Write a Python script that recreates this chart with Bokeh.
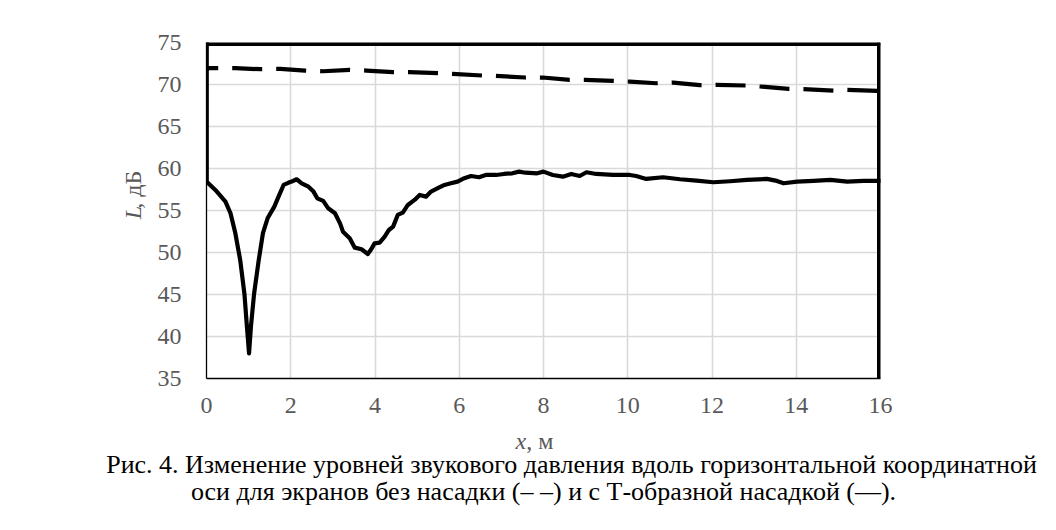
import math
from bokeh.plotting import figure
from bokeh.layouts import row, column
from bokeh.models import Range1d, FixedTicker, Span, BoxAnnotation
from bokeh.core.properties import value
from bokeh.embed import file_html
from bokeh.resources import INLINE

# --- data ---
x_solid = [0.0, 0.0, 0.21, 0.45, 0.57, 0.685, 0.80, 0.90, 0.96, 1.01, 1.055, 1.13, 1.24, 1.34,
           1.45, 1.61, 1.71, 1.83, 1.94, 2.02, 2.14, 2.26, 2.42, 2.54, 2.63, 2.77, 2.89,
           3.05, 3.17, 3.24, 3.40, 3.52, 3.68, 3.83, 3.91, 3.99, 4.11, 4.23, 4.33, 4.43,
           4.54, 4.66, 4.78, 4.94, 5.06, 5.21, 5.33, 5.49, 5.65, 5.80, 5.96, 6.12, 6.28,
           6.47, 6.63, 6.87, 7.06, 7.26, 7.42, 7.57, 7.85, 8.0, 8.22, 8.46, 8.66, 8.86,
           9.02, 9.25, 9.65, 10.05, 10.2, 10.44, 10.84, 11.24, 11.63, 12.03, 12.43, 12.83,
           13.30, 13.54, 13.70, 14.02, 14.41, 14.81, 15.21, 15.60, 16.0]
L_solid = [75.0, 58.44, 57.45, 56.06, 54.67, 52.28, 49.1, 45.1, 41.16, 37.99, 41.2, 45.1, 49.1, 52.3,
           54.07, 55.46, 56.65, 58.04, 58.3, 58.44, 58.72, 58.24, 57.84, 57.25, 56.45, 56.14, 55.26,
           54.67, 53.47, 52.48, 51.69, 50.58, 50.38, 49.82, 50.38, 51.09, 51.17, 51.89, 52.68, 53.08,
           54.47, 54.75, 55.66, 56.26, 56.85, 56.65, 57.25, 57.65, 58.04, 58.24, 58.44, 58.84, 59.11,
           58.96, 59.23, 59.23, 59.35, 59.43, 59.63, 59.5, 59.43, 59.63, 59.23, 59.03, 59.35, 59.11,
           59.55, 59.35, 59.23, 59.23, 59.11, 58.76, 58.96, 58.72, 58.56, 58.36, 58.48, 58.64,
           58.76, 58.52, 58.24, 58.44, 58.52, 58.64, 58.44, 58.52, 58.52]

x_dash = [0.0, 0.055, 0.685, 1.28, 1.75, 2.34, 2.77, 3.40, 3.80, 4.43, 4.82, 5.49, 5.84, 6.55,
          6.87, 7.57, 7.98, 8.62, 8.98, 9.65, 10.05, 10.68, 11.08, 11.71, 12.11, 12.83, 13.14,
          13.82, 14.17, 14.89, 15.21, 16.0]
L_dash = [71.8, 71.94, 71.94, 71.82, 71.86, 71.66, 71.58, 71.74, 71.66, 71.47, 71.47, 71.35, 71.27,
          71.07, 71.03, 70.83, 70.83, 70.55, 70.55, 70.43, 70.35, 70.15, 70.23, 69.92, 69.96, 69.88,
          69.76, 69.48, 69.44, 69.28, 69.36, 69.24]

x_ticks = [0, 2, 4, 6, 8, 10, 12, 14, 16]
y_ticks = [35, 40, 45, 50, 55, 60, 65, 70, 75]

y_label_var, y_label_unit = "L", ", дБ"
x_label_var, x_label_unit = "x", ", м"
caption1 = "Рис. 4. Изменение уровней звукового давления вдоль горизонтальной координатной"
caption2 = "оси для экранов без насадки (– –) и с Т-образной насадкой (—)."

SERIF = "Liberation Serif"
GRAY = "#595959"

TOTAL_W = 1040
LEFT_W = 152
TOP_H = 426
BOT_H = 96
FRAME_LEFT, FRAME_TOP, FRAME_W, FRAME_H = 206, 42, 674, 336


def blank(width, height):
    f = figure(width=width, height=height, output_backend="svg", toolbar_location=None,
               x_range=Range1d(0, width), y_range=Range1d(height, 0),
               min_border=0, x_axis_location=None, y_axis_location=None)
    f.grid.visible = False
    f.outline_line_color = None
    f.background_fill_color = "white"
    f.border_fill_color = "white"
    return f


# ---------- main chart ----------
MAIN_W = TOTAL_W - LEFT_W
p = figure(width=MAIN_W, height=TOP_H, output_backend="svg", toolbar_location=None,
           x_range=Range1d(0, 16), y_range=Range1d(35, 75),
           min_border_left=FRAME_LEFT - LEFT_W,
           min_border_right=MAIN_W - (FRAME_LEFT - LEFT_W) - FRAME_W,
           min_border_top=FRAME_TOP, min_border_bottom=TOP_H - FRAME_TOP - FRAME_H)
p.background_fill_color = "white"
p.border_fill_color = "white"
p.outline_line_color = None

for ax in (p.xaxis[0], p.yaxis[0]):
    ax.major_tick_in = 0
    ax.major_tick_out = 0
    ax.minor_tick_in = 0
    ax.minor_tick_out = 0
    ax.axis_line_color = "black"
    ax.axis_line_width = 1.3
    ax.major_label_text_font = SERIF
    ax.major_label_text_font_size = "24px"
    ax.major_label_text_color = GRAY

p.xaxis[0].ticker = FixedTicker(ticks=x_ticks)
p.yaxis[0].ticker = FixedTicker(ticks=y_ticks)
p.xaxis[0].major_label_standoff = 19
p.yaxis[0].major_label_standoff = 25

p.xgrid[0].ticker = FixedTicker(ticks=x_ticks)
p.ygrid[0].ticker = FixedTicker(ticks=y_ticks)
for g in (p.xgrid[0], p.ygrid[0]):
    g.grid_line_color = "#d9d9d9"
    g.grid_line_width = 1.6

p.line(x_dash, L_dash, line_color="black", line_width=4.2, line_dash="30 14",
       line_dash_offset=18, line_join="round")
p.line(x_solid, L_solid, line_color="black", line_width=4.2, line_join="round", line_cap="round")
# the solid series' initial vertical rise sits on the frame edge: thicken its visible part
p.add_layout(BoxAnnotation(left=x_solid[0], right=x_solid[0] + 0.05,
                           bottom=L_solid[1], top=L_solid[0],
                           fill_color="black", fill_alpha=1.0, line_color=None))

# thick top and right borders (half clipped at the frame edge)
p.add_layout(Span(location=75, dimension="width", line_color="black", line_width=7))
p.add_layout(Span(location=16, dimension="height", line_color="black", line_width=7))

# ---------- y-axis label panel ----------
yl = blank(LEFT_W, TOP_H)
FS = 24
L_w = 0.556 * FS
yl.text(x=[132], y=[224], text=[y_label_var], angle=math.pi / 2,
        text_font=value(SERIF), text_font_style="italic", text_font_size=f"{FS}px",
        text_color=GRAY, text_align="left", text_baseline="middle")
yl.text(x=[132], y=[224 - L_w], text=[y_label_unit], angle=math.pi / 2,
        text_font=value(SERIF), text_font_size=f"{FS}px",
        text_color=GRAY, text_align="left", text_baseline="middle")

# ---------- x-axis label and caption panel ----------
bt = blank(TOTAL_W, BOT_H)
x_w = 0.444 * FS
bt.text(x=[515], y=[440 - TOP_H], text=[x_label_var], text_font=value(SERIF),
        text_font_style="italic", text_font_size=f"{FS}px", text_color=GRAY,
        text_align="left", text_baseline="alphabetic")
bt.text(x=[515 + x_w], y=[440 - TOP_H], text=[x_label_unit], text_font=value(SERIF),
        text_font_size=f"{FS}px", text_color=GRAY,
        text_align="left", text_baseline="alphabetic")
bt.text(x=[571, 543], y=[464 - TOP_H, 491 - TOP_H], text=[caption1, caption2],
        text_font=value(SERIF), text_font_size="26px", text_color="black",
        text_align="center", text_baseline="alphabetic")

layout = column(row(yl, p), bt)
open("out.html", "w").write(file_html(layout, INLINE))
